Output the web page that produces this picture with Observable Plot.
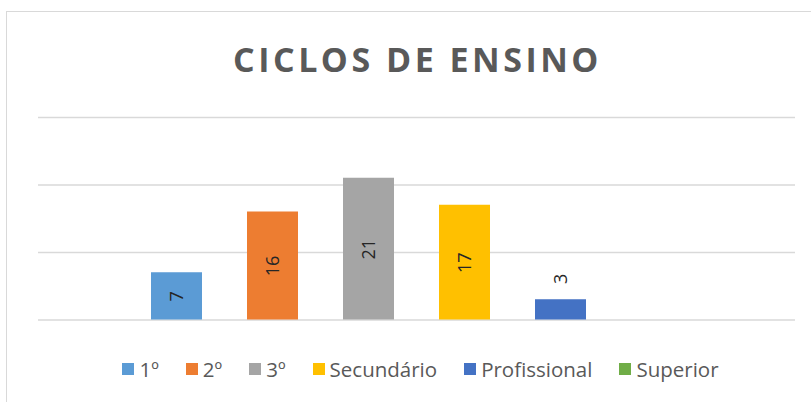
<!DOCTYPE html>
<html><head><meta charset="utf-8">
<script src="https://cdn.jsdelivr.net/npm/d3@7"></script>
<script src="https://cdn.jsdelivr.net/npm/@observablehq/plot@0.6"></script>
<style>
html,body{margin:0;padding:0;background:#fff;overflow:hidden;}
#frame{position:absolute;left:6px;top:11px;width:900px;height:500px;border:1.5px solid #d9d9d9;box-sizing:border-box;}
#title{position:absolute;left:0;width:835px;top:31px;text-align:center;font-family:"Open Sans",sans-serif;font-weight:bold;font-size:34px;letter-spacing:3.5px;color:#595959;line-height:56px;}
#plot{position:absolute;left:0;top:100px;}
#legend{position:absolute;left:0;top:355px;width:841px;display:flex;justify-content:center;gap:27px;font-family:"Open Sans",sans-serif;font-size:20.5px;color:#595959;}
.item{display:flex;align-items:center;gap:5px;}
.sw{width:12px;height:12px;display:inline-block;}
</style></head>
<body>
<div id="frame"></div>
<div id="title">CICLOS DE ENSINO</div>
<div id="plot"></div>
<div id="legend"></div>
<script>
const categories = ["1º","2º","3º","Secundário","Profissional","Superior"];
const values = [7,16,21,17,3,0];
const colors = ["#5B9BD5","#ED7D31","#A5A5A5","#FFC000","#4472C4","#70AD47"];
const yTicks = [0,10,20,30];

const data = categories.map((c,i)=>({cat:c, v:values[i]}));
const inside = data.filter(d=>d.v>=5);
const outside = data.filter(d=>d.v>0 && d.v<5);

const chart = Plot.plot({
  width: 811, height: 240,
  marginLeft: 38, marginRight: 16, marginTop: 17, marginBottom: 20.5,
  x: {domain: categories, range: [127.25, 706.25], paddingInner: 0.47, paddingOuter: 0.235, axis: null},
  y: {domain: [0,30], axis: null},
  color: {domain: categories, range: colors},
  marks: [
    Plot.ruleY(yTicks, {stroke:"#d9d9d9", strokeWidth:1.5}),
    Plot.barY(data, {x:"cat", y:"v", fill:"cat"}),
    Plot.text(inside, {x:"cat", y:d=>d.v/2, text:d=>String(d.v), rotate:-90, fontSize:18, fill:"#262626", fontFamily:"Open Sans"}),
    Plot.text(outside, {x:"cat", y:"v", text:d=>String(d.v), rotate:-90, dy:-21, fontSize:18, fill:"#262626", fontFamily:"Open Sans"})
  ]
});
document.getElementById("plot").appendChild(chart);

const lg = document.getElementById("legend");
categories.forEach((c,i)=>{
  const it = document.createElement("div"); it.className="item";
  const sw = document.createElement("span"); sw.className="sw"; sw.style.background=colors[i];
  const t = document.createElement("span"); t.textContent=c;
  it.appendChild(sw); it.appendChild(t); lg.appendChild(it);
});
</script>
</body></html>
